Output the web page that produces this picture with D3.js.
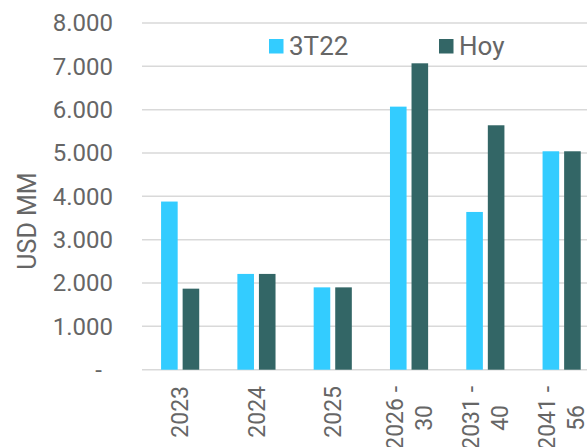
<!DOCTYPE html>
<html>
<head>
<meta charset="utf-8">
<script src="https://cdn.jsdelivr.net/npm/d3@7"></script>
<style>
  body { margin: 0; background: #fff; }
  text { font-family: Roboto, "Open Sans", sans-serif; fill: #666; }
</style>
</head>
<body>
<svg id="chart"></svg>
<script>
// dati
const categories = ["2023", "2024", "2025", "2026 -\n30", "2031 -\n40", "2041 -\n56"];
const seriesNames = ["3T22", "Hoy"];
const values3T22 = [3880, 2210, 1900, 6070, 3640, 5040];
const valuesHoy = [1870, 2210, 1900, 7070, 5640, 5040];
const yTicks = [0, 1000, 2000, 3000, 4000, 5000, 6000, 7000, 8000];
const colors = ["#33CCFF", "#336666"];

const width = 587;
const height = 447;

const svg = d3.select("#chart")
    .attr("width", width)
    .attr("height", height);

const dataset = categories.map((c, i) => ({ cat: c, vals: [values3T22[i], valuesHoy[i]] }));

const x0 = d3.scaleBand()
    .domain(categories)
    .range([142, 142 + 6 * 76.3])
    .paddingInner(0.5)
    .paddingOuter(0.25);

const x1 = d3.scaleBand()
    .domain([0, 1])
    .range([0, x0.bandwidth()])
    .paddingInner(0.23);

const y = d3.scaleLinear()
    .domain([0, 8000])
    .range([369.7, 23]);

const fmt = v => v === 0 ? "-" : d3.format(",")(v).replace(/,/g, ".");

// griglia
svg.append("g")
    .selectAll("line")
    .data(yTicks)
    .enter()
    .append("line")
    .attr("x1", 142)
    .attr("x2", width)
    .attr("y1", d => y(d))
    .attr("y2", d => y(d))
    .attr("stroke", "#d9d9d9")
    .attr("stroke-width", 1.5);

// asse y
const yAxis = d3.axisLeft(y).tickValues(yTicks).tickFormat(fmt).tickSize(0).tickPadding(0);
const gy = svg.append("g")
    .attr("transform", "translate(113,0)")
    .call(yAxis);
gy.select(".domain").remove();
gy.selectAll("text")
    .attr("font-size", 24)
    .attr("fill", "#666")
    .attr("font-family", "Roboto")
    .attr("x", d => d === 0 ? -11 : 0);

// etichetta asse y
svg.append("text")
    .attr("transform", "translate(36,221) rotate(-90)")
    .attr("text-anchor", "middle")
    .attr("font-size", 25)
    .text("USD MM");

// barre
const groups = svg.append("g")
    .selectAll("g")
    .data(dataset)
    .enter()
    .append("g")
    .attr("transform", d => `translate(${x0(d.cat)},0)`);

groups.selectAll("rect")
    .data(d => d.vals.map((v, i) => ({ v, i })))
    .enter()
    .append("rect")
    .attr("x", d => x1(d.i))
    .attr("width", x1.bandwidth())
    .attr("y", d => y(d.v))
    .attr("height", d => y(0) - y(d.v))
    .attr("fill", d => colors[d.i]);

// etichette asse x (ruotate, multilinea)
const lh = 29;
const xLabels = svg.append("g")
    .selectAll("g")
    .data(categories)
    .enter()
    .append("g");

xLabels.each(function(c) {
    const g = d3.select(this);
    const lines = c.split("\n");
    const texts = lines.map((ln, i) => g.append("text")
        .attr("font-size", 23)
        .attr("text-anchor", "middle")
        .attr("x", 0)
        .attr("y", (i - (lines.length - 1) / 2) * lh)
        .attr("dy", "0.35em")
        .text(ln));
    const L = d3.max(texts, t => t.node().getComputedTextLength());
    const cx = x0(c) + x0.bandwidth() / 2;
    g.attr("transform", `translate(${cx},${386 + L / 2}) rotate(-90)`);
});

// legenda
const legendX = [269, 439];
const legend = svg.append("g")
    .selectAll("g")
    .data(seriesNames)
    .enter()
    .append("g")
    .attr("transform", (d, i) => `translate(${legendX[i]},39)`);

legend.append("rect")
    .attr("width", 14.5)
    .attr("height", 14.5)
    .attr("fill", (d, i) => colors[i]);

legend.append("text")
    .attr("x", 20)
    .attr("y", 16)
    .attr("font-size", 26)
    .text(d => d);
</script>
</body>
</html>
